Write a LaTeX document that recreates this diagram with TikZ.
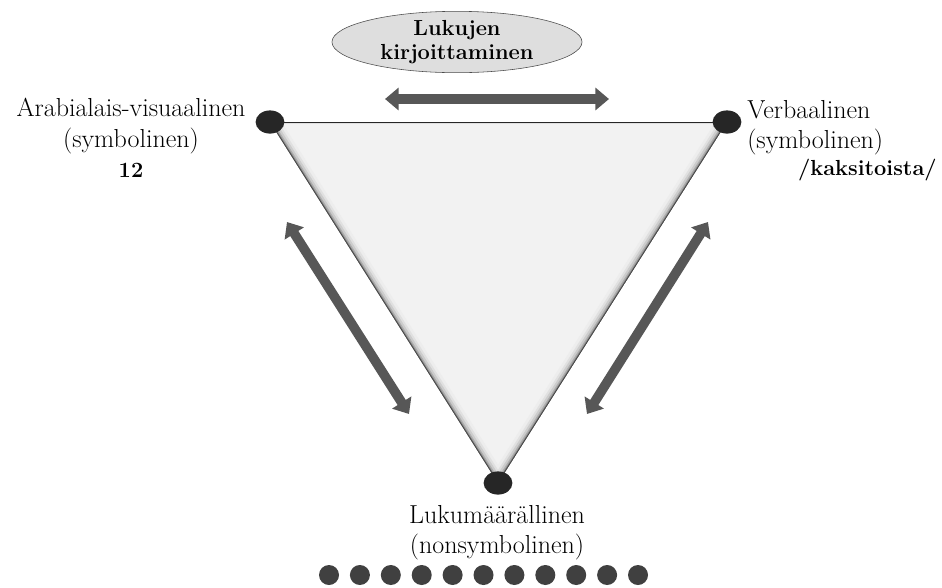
\documentclass[tikz,border=0pt]{standalone}
\usepackage{xcolor}
\usepackage{tikz}
\usetikzlibrary{arrows.meta, positioning, shapes.geometric}
\definecolor{Ink}{HTML}{262626}
\definecolor{Shaft}{HTML}{575757}
\definecolor{Face}{HTML}{F2F2F2}
\definecolor{Oval}{HTML}{DEDEDE}
\definecolor{Bead}{HTML}{404040}

\begin{document}
\begin{tikzpicture}[
  x=0.025cm, y=-0.025cm,
  font=\fontsize{18.5}{21.5}\selectfont,
  vertex/.style={ellipse, fill=Ink, minimum width=0.72cm, minimum height=0.58cm, inner sep=0pt},
  bead/.style={circle, fill=Bead, minimum size=0.5cm, inner sep=0pt},
  oval/.style={ellipse, draw=black!70, fill=Oval, align=center, minimum width=6.25cm, minimum height=1.5cm, inner sep=0pt, font=\fontsize{15.5}{17}\selectfont\bfseries},
  lbl/.style={inner sep=0pt},
  bold/.style={inner sep=0pt, font=\fontsize{15.5}{18}\selectfont\bfseries},
  arrow/.style={{Triangle[width=0.55cm, length=0.34cm]}-{Triangle[width=0.55cm, length=0.34cm]}, line width=0.24cm, draw=Shaft}
]
\useasboundingbox (0,0) rectangle (942,587);

% corners of the triangle
\coordinate (a) at (270,122);
\coordinate (v) at (727,122);
\coordinate (q) at (498,483);

\begin{scope}
  \clip (a) -- (v) -- (q) -- cycle;
  \fill[Face] (a) -- (v) -- (q) -- cycle;
  \foreach \w/\c in {14/7, 10/12, 7/20, 4/32, 2/50}
    \draw[line width=\w pt, black!\c] (a) -- (q) -- (v);
  \draw[line width=3pt, black!12] (a) -- (v);
  \draw[line width=1.4pt, black!85] (a) -- (v);
  \draw[line width=0.9pt, black!75] (a) -- (q) -- (v);
\end{scope}

\node[vertex] (arabdot) at (a) {};
\node[vertex] (verbdot) at (v) {};
\node[vertex] (quantdot) at (q) {};

\node[oval] (writing) at (457,42) {Lukujen\\kirjoittaminen};

\node[lbl, align=center] (arabic) at (131,126) {Arabialais-visuaalinen\\(symbolinen)};
\node[bold] (twelve) at (131,170) {12};
\node[lbl, align=left, anchor=west] (verbal) at (747,128) {Verbaalinen\\(symbolinen)};
\node[bold, anchor=east] (spoken) at (937,170) {/kaksitoista/};
\node[lbl, align=center] (quantity) at (497,533) {Lukumäärällinen\\(nonsymbolinen)};

\foreach \i in {0,...,10}
  \node[bead] (bead\i) at (329+30.9*\i,575) {};

% arrows between the codes
\coordinate (top1) at (385,99);
\coordinate (top2) at (609,99);
\coordinate (left1) at (287,222);
\coordinate (left2) at (409,414);
\coordinate (right1) at (708,222);
\coordinate (right2) at (587,414);

\draw[arrow] (top1) -- (top2);
\draw[arrow] (left1) -- (left2);
\draw[arrow] (right1) -- (right2);
\end{tikzpicture}
\end{document}
